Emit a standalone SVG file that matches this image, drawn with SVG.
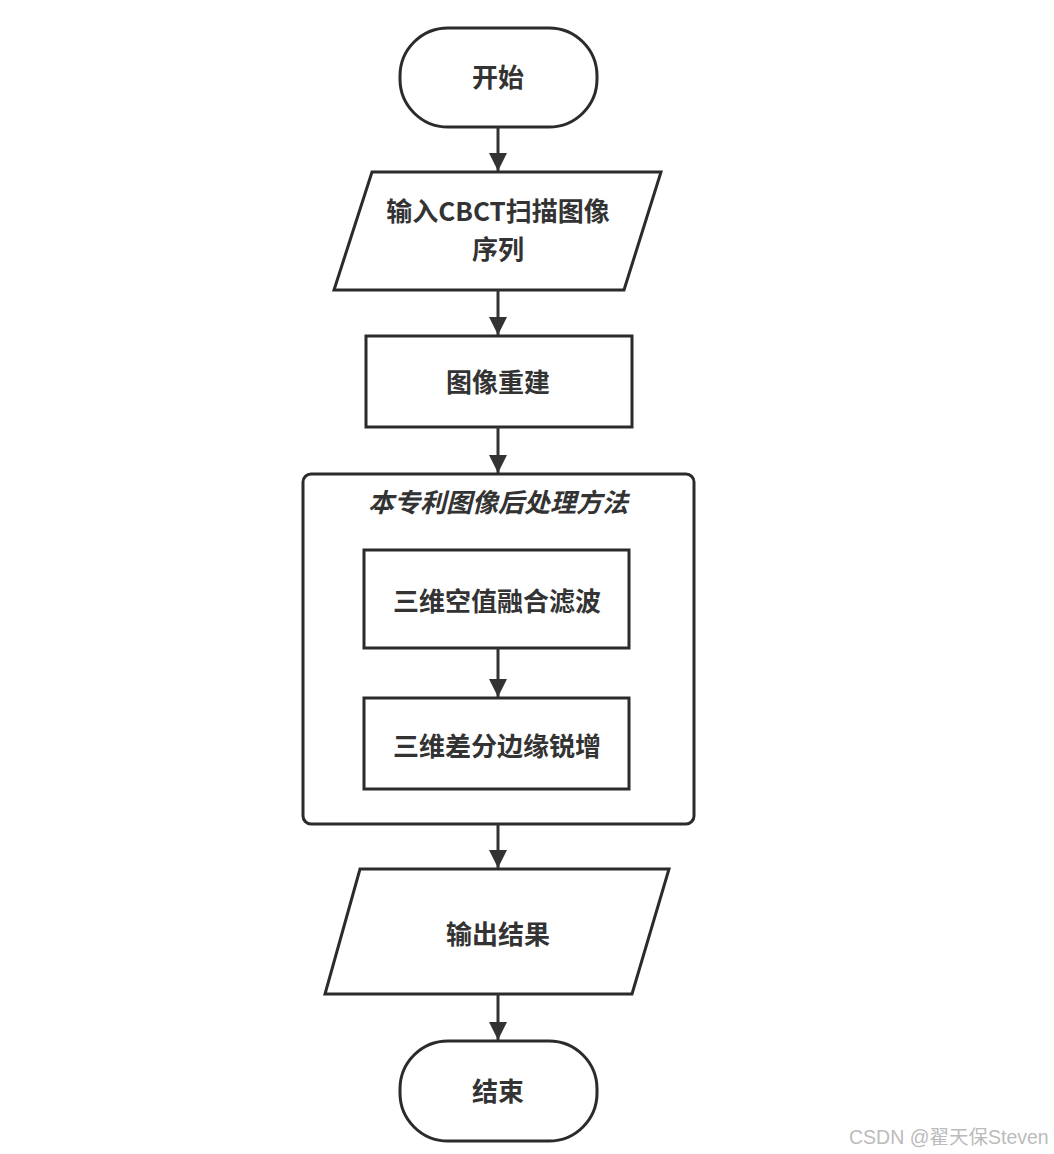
<svg xmlns="http://www.w3.org/2000/svg" width="1054" height="1154" viewBox="0 0 1054 1154">
<style>
.shape{fill:#fff;stroke:#2b2b2b;stroke-width:3}
.lbl{font-family:"Noto Sans CJK SC","Noto Sans",sans-serif;font-size:26px;font-weight:bold;fill:#333;text-anchor:middle}
.title{font-style:italic}
.conn{stroke:#333;stroke-width:3;fill:none}
.wm{font-family:"Liberation Sans","Noto Sans CJK SC",sans-serif;font-size:19.5px;fill:#bbb}
</style>
<defs>
<marker id="ah" markerUnits="userSpaceOnUse" markerWidth="18" markerHeight="18" viewBox="0 0 18 18" refX="18" refY="9" orient="auto">
<path d="M0,0 L18,9 L0,18 Z" fill="#333"/>
</marker>
</defs>
<rect width="1054" height="1154" fill="#fff"/>
<g id="start">
<rect class="shape" x="400" y="28" width="197" height="99" rx="48" ry="48"/>
<text class="lbl" x="498" y="87">开始</text>
</g>
<g id="input">
<polygon class="shape" points="372,172 661,172 624,290 334,290"/>
<text class="lbl" x="498" y="221">输入CBCT扫描图像</text>
<text class="lbl" x="498" y="259">序列</text>
</g>
<g id="recon">
<rect class="shape" x="366" y="336" width="266" height="91"/>
<text class="lbl" x="498" y="392">图像重建</text>
</g>
<g id="group">
<rect class="shape" x="303" y="474" width="391" height="350" rx="8" ry="8"/>
<text class="lbl title" x="498" y="512">本专利图像后处理方法</text>
</g>
<g id="filter">
<rect class="shape" x="364" y="550" width="265" height="98"/>
<text class="lbl" x="497" y="611">三维空值融合滤波</text>
</g>
<g id="sharpen">
<rect class="shape" x="364" y="698" width="265" height="91"/>
<text class="lbl" x="497" y="756">三维差分边缘锐增</text>
</g>
<g id="output">
<polygon class="shape" points="360,869 669,869 632,994 325,994"/>
<text class="lbl" x="498" y="944">输出结果</text>
</g>
<g id="end">
<rect class="shape" x="400" y="1041" width="197" height="100" rx="48" ry="48"/>
<text class="lbl" x="498" y="1101">结束</text>
</g>
<g id="connectors">
<line class="conn" x1="498" y1="127" x2="498" y2="171" marker-end="url(#ah)"/>
<line class="conn" x1="498" y1="290" x2="498" y2="335" marker-end="url(#ah)"/>
<line class="conn" x1="498" y1="427" x2="498" y2="473" marker-end="url(#ah)"/>
<line class="conn" x1="498" y1="648" x2="498" y2="697" marker-end="url(#ah)"/>
<line class="conn" x1="498" y1="824" x2="498" y2="868" marker-end="url(#ah)"/>
<line class="conn" x1="498" y1="994" x2="498" y2="1040" marker-end="url(#ah)"/>
</g>
<text class="wm" x="849" y="1144">CSDN @翟天保Steven</text>
</svg>
